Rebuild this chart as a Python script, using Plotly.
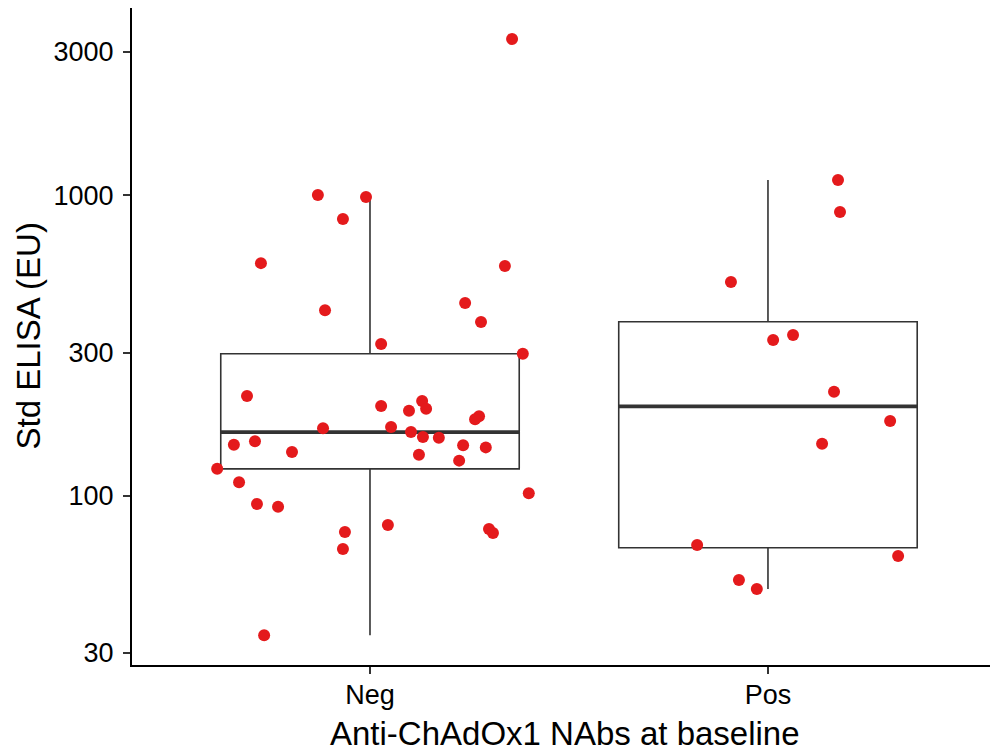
import numpy as np
import plotly.graph_objects as go

categories = ["Neg", "Pos"]

neg_values = [3314, 1003, 988, 834, 595, 582, 438, 415, 379, 320, 297, 215, 207, 199,
              195, 192, 184, 180, 169.5, 168, 163, 157, 156, 152, 148, 147.5, 145, 140,
              137, 131, 123, 111, 102, 94, 92, 80, 77.6, 75.8, 75.2, 66.6, 34.4]
neg_jitter = [0.357, -0.131, -0.010, -0.068, -0.274, 0.339, 0.239, -0.113, 0.279, 0.028,
              0.384, -0.309, 0.131, 0.028, 0.141, 0.098, 0.274, 0.264, 0.053, -0.118,
              0.103, 0.133, 0.173, -0.289, -0.342, 0.234, 0.291, -0.196, 0.123, 0.224,
              -0.384, -0.329, 0.399, -0.284, -0.231, 0.045, 0.299, -0.063, 0.309, -0.068,
              -0.266]

pos_values = [1125, 880, 515, 343, 330, 222, 177.5, 149, 68.6, 63.1, 52.5, 49.0]
pos_jitter = [0.176, 0.181, -0.093, 0.063, 0.013, 0.166, 0.307, 0.136, -0.178, 0.327,
              -0.073, -0.028]

y_tickvals = [30, 100, 300, 1000, 3000]
y_ticktext = ["30", "100", "300", "1000", "3000"]

x_title = "Anti-ChAdOx1 NAbs at baseline"
y_title = "Std ELISA (EU)"

groups = [(neg_values, neg_jitter), (pos_values, pos_jitter)]
BOX_W = 0.75
FONT = "Liberation Sans, Arial, sans-serif"


def box_stats(vals):
    lv = np.log10(np.asarray(vals, dtype=float))
    q1, med, q3 = np.percentile(lv, [25, 50, 75])
    iqr = q3 - q1
    upper = lv[lv <= q3 + 1.5 * iqr].max()
    lower = lv[lv >= q1 - 1.5 * iqr].min()
    return [10 ** v for v in (lower, q1, med, q3, upper)]


fig = go.Figure()

for i, (vals, jit) in enumerate(groups):
    lo, q1, med, q3, hi = box_stats(vals)
    fig.add_trace(go.Box(
        x=[i], q1=[q1], median=[med], q3=[q3], lowerfence=[lo], upperfence=[hi],
        width=BOX_W, fillcolor="white", line=dict(color="#333333", width=1.6),
        whiskerwidth=0, boxpoints=False, showlegend=False, hoverinfo="skip"))
    fig.add_trace(go.Scatter(
        x=[i - BOX_W / 2, i + BOX_W / 2], y=[med, med], mode="lines",
        line=dict(color="#333333", width=3.8), showlegend=False, hoverinfo="skip"))

for i, (vals, jit) in enumerate(groups):
    fig.add_trace(go.Scatter(
        x=[i + j for j in jit], y=vals, mode="markers",
        marker=dict(color="#E41A1C", size=12, line=dict(width=0)),
        showlegend=False))

# page body has an 8px margin; figure coordinates are offset by it
W, H = 990, 743
PLOT_L, PLOT_T, PLOT_R, PLOT_B = 124, 0, 990, 657
plot_h = PLOT_B - PLOT_T
plot_w = PLOT_R - PLOT_L

fig.update_layout(
    width=W, height=H,
    margin=dict(l=PLOT_L, r=W - PLOT_R, t=PLOT_T, b=H - PLOT_B),
    plot_bgcolor="white", paper_bgcolor="white",
    boxmode="overlay",
    font=dict(family=FONT, color="black"),
    xaxis=dict(
        range=[-0.598, 1.578], tickvals=[0, 1], ticktext=categories,
        showgrid=False, zeroline=False, showline=True, linecolor="black", linewidth=2,
        ticks="outside", ticklen=7, tickwidth=2, tickcolor="#333333",
        ticklabelstandoff=-2,
        tickfont=dict(size=27, color="black", family=FONT), automargin=False),
    yaxis=dict(
        type="log", range=[1.4372, 3.6235], tickvals=y_tickvals, ticktext=y_ticktext,
        showgrid=False, zeroline=False, showline=True, linecolor="black", linewidth=2,
        ticks="outside", ticklen=7, tickwidth=2, tickcolor="#333333",
        ticklabelstandoff=4,
        tickfont=dict(size=27, color="black", family=FONT), automargin=False),
    annotations=[
        dict(text=x_title, xref="paper", yref="paper", x=0.5,
             y=(PLOT_B - 725) / plot_h, xanchor="center", yanchor="middle",
             showarrow=False, font=dict(size=33, family=FONT, color="black")),
        dict(text=y_title, xref="paper", yref="paper", x=(20 - PLOT_L) / plot_w,
             y=0.5, xanchor="center", yanchor="middle", textangle=-90,
             showarrow=False, font=dict(size=33, family=FONT, color="black")),
    ],
)

fig.write_html("out.html")
